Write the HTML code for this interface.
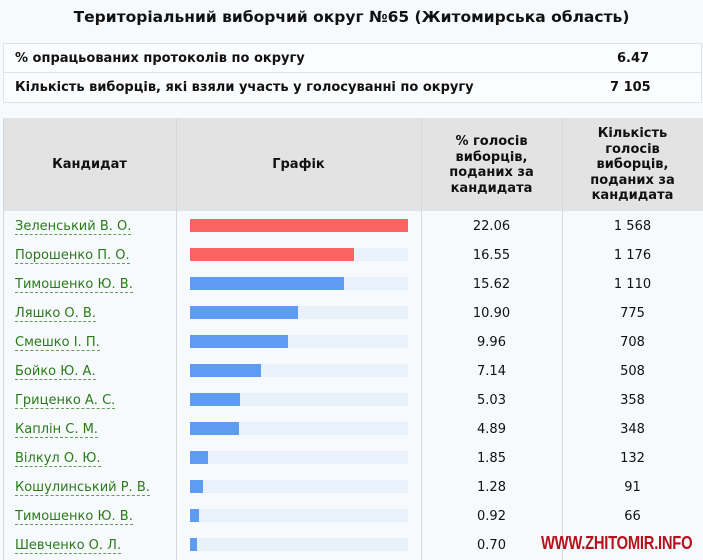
<!DOCTYPE html>
<html><head><meta charset="utf-8"><style>
body{margin:0;width:703px;height:560px;background:#f7fafc;font-family:"DejaVu Sans","Liberation Sans",sans-serif;position:relative;overflow:hidden;color:#111}
.a{position:absolute}
.title{left:0;width:703px;top:8px;text-align:center;font-weight:bold;font-size:15.5px}
.info{left:3px;top:43px;width:697px;height:58px;border:1px solid #dde3e8;background:#fafcfd}
.info div{position:absolute;font-weight:bold;font-size:13px}
.hdr{left:3px;top:118px;width:700px;height:93px;background:#e3e3e3}
.h{position:absolute;font-weight:bold;font-size:13px;text-align:center;line-height:15.5px}
.vl{position:absolute;width:1px;background:#d4d8dc;top:118px;height:442px}
.row{position:absolute;left:3px;width:700px;height:29px;font-size:13px}
.nm{position:absolute;left:12px;top:8px;color:#2a7a1a;border-bottom:1px dashed #6a9a5a;line-height:15px}
.tr{position:absolute;left:187px;top:8px;width:218px;height:13px;background:#e9f1fb}
.br{position:absolute;left:0;top:0;height:13px}
.p{position:absolute;left:418px;width:141px;text-align:center;top:8px}
.c{position:absolute;left:559px;width:141px;text-align:center;top:8px}
</style></head><body>
<div class="a title">Територіальний виборчий округ №65 (Житомирська область)</div>
<div class="a info">
<div style="left:11px;top:7px">% опрацьованих протоколів по округу</div>
<div style="left:613px;top:7px">6.47</div>
<div style="left:0;top:28px;width:697px;height:1px;background:#dde3e8"></div>
<div style="left:11px;top:36px">Кількість виборців, які взяли участь у голосуванні по округу</div>
<div style="left:606px;top:36px">7 105</div>
</div>
<div class="a hdr">
<div class="h" style="left:0;width:173px;top:39px">Кандидат</div>
<div class="h" style="left:173px;width:245px;top:39px">Графік</div>
<div class="h" style="left:418px;width:141px;top:16px">% голосів<br>виборців,<br>поданих за<br>кандидата</div>
<div class="h" style="left:559px;width:141px;top:8px">Кількість<br>голосів<br>виборців,<br>поданих за<br>кандидата</div>
</div>
<div class="vl" style="left:3px"></div>
<div class="vl" style="left:176px"></div>
<div class="vl" style="left:421px"></div>
<div class="vl" style="left:562px"></div>
<div class="row" style="top:211px"><span class="nm">Зеленський В. О.</span><div class="tr"><div class="br" style="width:218px;background:#fc6262"></div></div><div class="p">22.06</div><div class="c">1 568</div></div>
<div class="row" style="top:240px"><span class="nm">Порошенко П. О.</span><div class="tr"><div class="br" style="width:164px;background:#fc6262"></div></div><div class="p">16.55</div><div class="c">1 176</div></div>
<div class="row" style="top:269px"><span class="nm">Тимошенко Ю. В.</span><div class="tr"><div class="br" style="width:154px;background:#5d9cf0"></div></div><div class="p">15.62</div><div class="c">1 110</div></div>
<div class="row" style="top:298px"><span class="nm">Ляшко О. В.</span><div class="tr"><div class="br" style="width:108px;background:#5d9cf0"></div></div><div class="p">10.90</div><div class="c">775</div></div>
<div class="row" style="top:327px"><span class="nm">Смешко І. П.</span><div class="tr"><div class="br" style="width:98px;background:#5d9cf0"></div></div><div class="p">9.96</div><div class="c">708</div></div>
<div class="row" style="top:356px"><span class="nm">Бойко Ю. А.</span><div class="tr"><div class="br" style="width:71px;background:#5d9cf0"></div></div><div class="p">7.14</div><div class="c">508</div></div>
<div class="row" style="top:385px"><span class="nm">Гриценко А. С.</span><div class="tr"><div class="br" style="width:50px;background:#5d9cf0"></div></div><div class="p">5.03</div><div class="c">358</div></div>
<div class="row" style="top:414px"><span class="nm">Каплін С. М.</span><div class="tr"><div class="br" style="width:49px;background:#5d9cf0"></div></div><div class="p">4.89</div><div class="c">348</div></div>
<div class="row" style="top:443px"><span class="nm">Вілкул О. Ю.</span><div class="tr"><div class="br" style="width:18px;background:#5d9cf0"></div></div><div class="p">1.85</div><div class="c">132</div></div>
<div class="row" style="top:472px"><span class="nm">Кошулинський Р. В.</span><div class="tr"><div class="br" style="width:13px;background:#5d9cf0"></div></div><div class="p">1.28</div><div class="c">91</div></div>
<div class="row" style="top:501px"><span class="nm">Тимошенко Ю. В.</span><div class="tr"><div class="br" style="width:9px;background:#5d9cf0"></div></div><div class="p">0.92</div><div class="c">66</div></div>
<div class="row" style="top:530px"><span class="nm">Шевченко О. Л.</span><div class="tr"><div class="br" style="width:7px;background:#5d9cf0"></div></div><div class="p">0.70</div></div>
<div class="a" style="left:541px;top:533px;font-family:'Liberation Sans',sans-serif;font-weight:bold;font-size:18px;color:#b5121b;transform:scaleX(0.82);transform-origin:left;letter-spacing:-0.3px">WWW.ZHITOMIR.INFO</div>
</body></html>
